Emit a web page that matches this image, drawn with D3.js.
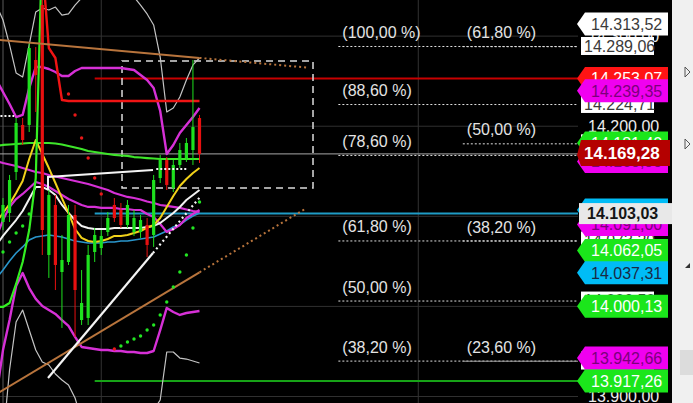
<!DOCTYPE html>
<html>
<head>
<meta charset="utf-8">
<script src="https://cdn.jsdelivr.net/npm/d3@7"></script>
<style>
  html, body { margin: 0; padding: 0; background: #000; overflow: hidden; }
  svg { display: block; }
  text { font-family: "Liberation Sans", Arial, sans-serif; }
</style>
</head>
<body>
<svg id="chart" width="693" height="403"></svg>
<script>
// ---- Candles (bar index 0..31, prices in index points) ----
const candleOpen  = [14070, 14093.7, 14103.7, 14149.2, 14201.4, 14201.4, 14273.5, 14334.5, 14057.1, 14112.6, 14038.2, 14049.3, 14101.5, 13984.9, 13987.2, 14060.4, 14064.8, 14082.6, 14112.6, 14107.0, 14090.4, 14082.6, 14082.6, 14090.4, 14079.3, 14142.5, 14162.5, 14131.4, 14157.0, 14164.7, 14173.6, 14209.1];
const candleHigh  = [14090, 14120.3, 14145.9, 14209.1, 14209.1, 14293.5, 14287.9, 14351.2, 14129.2, 14123.7, 14079.3, 14112.6, 14112.6, 14040.4, 14068.2, 14087.1, 14084.8, 14104.8, 14120.3, 14114.8, 14118.1, 14107.0, 14101.5, 14098.1, 14145.9, 14168.1, 14165.8, 14162.5, 14181.4, 14186.9, 14273.5, 14212.5];
const candleLow   = [14060, 14084.8, 14093.7, 14140.3, 14179.2, 14193.6, 14215.8, 14057.1, 14031.6, 14018.2, 13976.1, 14046.0, 13966.1, 13979.4, 13979.4, 14049.3, 14057.1, 14078.2, 14093.7, 14087.1, 14087.1, 14078.2, 14076.0, 14054.8, 14066.0, 14137.0, 14129.2, 14127.0, 14153.6, 14160.3, 14157.0, 14159.2];
const candleClose = [14085, 14112.6, 14140.3, 14203.6, 14184.7, 14286.8, 14256.9, 14084.8, 14123.7, 14046.0, 14051.5, 14101.5, 14018.2, 14003.8, 14057.1, 14079.3, 14078.2, 14098.1, 14098.1, 14090.4, 14112.6, 14098.1, 14095.9, 14068.2, 14140.3, 14162.5, 14134.8, 14157.0, 14173.6, 14181.4, 14199.1, 14169.28];

// ---- Indicator series ----
const outerUpper = [14334.5, 14317.9, 14290.2, 14259.1, 14254.6, 14290.2, 14326.8, 14331.2, 14329.0, 14332.3, 14323.4, 14324.6, 14334.5, 14342.3, 14356.7, 14367.8, 14373.4, 14373.4, 14373.4, 14367.8, 14356.7, 14343.4, 14334.5, 14324.6, 14312.4, 14276.8, 14215.8, 14220.2, 14232.4, 14251.3, 14268.0, 14275.7];
const outerLower = [13807.3, 13851.7, 13929.4, 13982.7, 13996.0, 13973.8, 13951.6, 13938.3, 13935.0, 13925.0, 13918.3, 13912.8, 13898.4, 13874.0, 13851.7, 13840.7, 13835.1, 13835.1, 13835.1, 13835.1, 13840.7, 13846.2, 13857.3, 13868.4, 13885.0, 13896.1, 13949.4, 13949.4, 13942.7, 13941.6, 13939.4, 13937.2];
const bandUpper  = [14251.3, 14238.0, 14224.7, 14210.2, 14212.5, 14242.4, 14265.7, 14265.7, 14263.5, 14260.2, 14255.7, 14255.7, 14261.3, 14264.6, 14264.6, 14264.6, 14264.6, 14264.6, 14264.6, 14264.6, 14263.5, 14262.4, 14256.9, 14251.3, 14242.4, 14216.9, 14169.2, 14179.2, 14192.5, 14201.4, 14210.2, 14220.2];
const bandLower  = [13901.7, 13951.6, 13984.9, 14022.7, 14037.1, 14020.4, 14008.3, 14000.5, 13996.0, 13991.6, 13984.9, 13978.3, 13966.1, 13955.0, 13953.9, 13952.7, 13951.6, 13951.6, 13950.5, 13950.5, 13949.4, 13949.4, 13948.3, 13948.3, 13950.5, 13973.8, 13998.3, 13993.8, 13990.5, 13992.7, 13993.8, 13994.9];
const bandMiddle = [14077.1, 14095.9, 14110.4, 14119.2, 14124.8, 14131.4, 14138.1, 14135.9, 14132.5, 14128.1, 14123.7, 14119.2, 14115.9, 14112.6, 14110.4, 14110.4, 14109.3, 14109.3, 14109.3, 14108.1, 14108.1, 14107.0, 14107.0, 14102.6, 14099.3, 14091.5, 14082.6, 14085.9, 14090.4, 14098.1, 14102.6, 14107.0];
const slowAverage = [14161.4, 14159.2, 14157.5, 14155.8, 14153.6, 14151.4, 14149.2, 14148.1, 14145.9, 14144.2, 14142.5, 14140.9, 14139.2, 14137.5, 14135.9, 14133.7, 14131.4, 14129.2, 14125.9, 14123.7, 14121.5, 14120.3, 14118.7, 14116.4, 14114.8, 14112.6, 14111.5, 14110.4, 14109.3, 14107.6, 14105.9, 14104.8];
const whiteAverage = [14068.2, 14078.2, 14087.1, 14095.9, 14105.9, 14119.2, 14132.5, 14132.5, 14129.2, 14123.7, 14112.6, 14103.7, 14095.9, 14089.3, 14087.1, 14085.9, 14085.9, 14085.9, 14087.1, 14087.1, 14087.1, 14087.1, 14087.1, 14088.2, 14089.3, 14092.6, 14098.1, 14103.7, 14110.4, 14118.1, 14123.7, 14129.2];
const yellowAverage = [14093.7, 14103.7, 14113.7, 14125.9, 14139.2, 14163.6, 14184.7, 14169.2, 14153.6, 14137.0, 14120.3, 14103.7, 14085.9, 14076.0, 14072.6, 14071.5, 14072.6, 14074.8, 14078.2, 14078.2, 14079.3, 14081.5, 14083.7, 14087.1, 14090.4, 14098.1, 14110.4, 14122.6, 14133.7, 14141.4, 14148.1, 14153.6];
const greenAverage = [14178.1, 14179.2, 14179.7, 14180.3, 14180.8, 14181.4, 14181.4, 14181.4, 14181.4, 14180.8, 14179.7, 14178.1, 14176.4, 14174.7, 14172.5, 14171.4, 14170.3, 14169.2, 14168.1, 14167.5, 14167.0, 14165.8, 14165.3, 14164.7, 14164.2, 14163.6, 14163.6, 14163.6, 14163.6, 14163.6, 14163.6, 14163.6];
const blueAverage = [14031.6, 14040.4, 14050.4, 14059.3, 14066.0, 14073.7, 14077.1, 14078.2, 14079.3, 14078.2, 14077.1, 14074.8, 14072.6, 14071.5, 14070.4, 14070.4, 14070.4, 14071.5, 14071.5, 14072.6, 14072.6, 14073.7, 14074.8, 14075.9, 14077.1, 14080.4, 14083.7, 14088.2, 14090.4, 14095.9, 14100.4, 14103.7];
const trailLong  = [13999.4, 13999.4, 14003.8, 14024.9, 14049.3, 14084.8, 14142.5, 14406.7, null, null, null, null, null, null, null, null, null, null, null, null, null, null, null, null, null, null, null, null, null, null, null, null];
const trailShort = [null, null, null, null, null, null, null, 14380.0, 14286.8, 14275.7, 14229.1, 14228.0, 14228.0, 14228.0, 14228.0, 14228.0, 14228.0, 14228.0, 14228.0, 14228.0, 14228.0, 14228.0, 14228.0, 14228.0, 14228.0, 14228.0, 14228.0, 14228.0, 14228.0, 14228.0, 14228.0, 14228.0];
const sarValues = [null, 14060.4, 14071.5, 14081.5, 14089.3, 14102.6, null, null, null, null, null, 14235.8, 14212.5, 14186.9, 14164.7, 14142.5, 14124.8, null, 13952.7, 13956.1, 13960.5, 13963.8, 13967.2, 13973.8, 13979.4, 13990.5, 14004.9, 14021.6, 14038.2, 14057.1, 14087.1, 14115.9];
const sarSide = [null, 'up', 'up', 'up', 'up', 'up', null, null, null, null, null, 'down', 'down', 'down', 'down', 'down', 'down', null, 'down', 'up', 'up', 'up', 'up', 'up', 'up', 'up', 'up', 'up', 'up', 'up', 'up', 'up'];

// ---- Drawn objects, anchored as [bar index, price] ----
const fallingTrend = [[0, 14296.0], [31, 14275.8]];
const fallingTrendEnd = 47.4;
const risingTrend = [[0, 13902.7], [31, 14037.9]];
const risingTrendEnd = 47.1;
const whiteTrend = [[7.87, 13920.6], [23.9, 14059.3]];
const whiteTrendEnd = 31;
const whiteStep = [[7.87, 14129.2], [7.87, 14143.6], [23.9, 14151.4]];
const whiteStepDotted = [[24.4, 14152.5], [29.0, 14152.5]];
const whiteLeftDotted = [[0, 14211.4], [2.7, 14211.4]];
const zoneBox = [[19.17, 14272.4], [48.33, 14131.4]];
const levelLines = [14253.07, 14103.03, 13917.26];
const levelStart = 15;
const lastPrice = 14169.28;

// ---- Fibonacci retracements ----
const fibLow = 13724.0;
const fibHighA = 14289.06;
const fibHighB = 14638.0;
const fibLevelsA = [1, 0.886, 0.786, 0.618, 0.5, 0.382];
const fibLevelsB = [0.618, 0.5, 0.382, 0.236];
const fibStartA = 52.2;
const fibStartB = 71.2;

// ---- Price axis ----
const axisTicks = [13900, 14000, 14100, 14200, 14300];
const sessionBreaks = [1, 16, 64.4];
const tagValues = [14289.06, 14224.71, 14181.0, 14073.2, 14006.5, 13939.9, 14313.52, 14253.07, 14239.35, 14181.4, 14160.9, 14169.28, 14107.0, 14091.00, 14103.03, 14062.05, 14037.31, 14000.13, 13942.66, 13917.26];
const tagKinds  = ['level', 'level', 'level', 'level', 'level', 'level', 'mark', 'red', 'magenta', 'green', 'magenta', 'last', 'cyan', 'magenta', 'cursor', 'green', 'cyan', 'green', 'magenta', 'green'];

// ================= drawing =================
const W = 693, H = 403, PLOT_W = 578;
const loc = d3.formatLocale({ decimal: ",", thousands: ".", grouping: [3], currency: ["", ""] });
const fmtPrice = loc.format(",.2f");
const fmtPct = loc.format(".2f");

const x = d3.scaleLinear().domain([0, 31]).range([-3.55, 199.5]);
const y = d3.scaleLinear().domain([13892.8, 14340.1]).range([H, 0]);

const svg = d3.select("#chart");
svg.append("rect").attr("width", W).attr("height", H).attr("fill", "#000");
svg.append("defs").append("clipPath").attr("id", "plotClip")
  .append("rect").attr("width", PLOT_W).attr("height", H);
const plot = svg.append("g").attr("clip-path", "url(#plotClip)");

// grid
plot.selectAll("line.hgrid").data(axisTicks).join("line").attr("class", "hgrid")
  .attr("x1", 0).attr("x2", PLOT_W).attr("y1", d => y(d)).attr("y2", d => y(d))
  .attr("stroke", "#303030").attr("stroke-width", 1);
plot.selectAll("line.vgrid").data(sessionBreaks).join("line").attr("class", "vgrid")
  .attr("x1", d => x(d)).attr("x2", d => x(d)).attr("y1", 0).attr("y2", H)
  .attr("stroke", (d, i) => i === 0 ? "#5a5a5a" : "#333").attr("stroke-width", 1);

// horizontal levels
const levelColors = ["#c80000", "#1f9cc6", "#17a317"];
plot.selectAll("line.level").data(levelLines).join("line").attr("class", "level")
  .attr("x1", x(levelStart)).attr("x2", PLOT_W)
  .attr("y1", d => y(d)).attr("y2", d => y(d))
  .attr("stroke", (d, i) => levelColors[i]).attr("stroke-width", 2);
plot.append("line").attr("x1", 0).attr("x2", PLOT_W)
  .attr("y1", y(lastPrice)).attr("y2", y(lastPrice))
  .attr("stroke", "#a8a8a8").attr("stroke-width", 1);

// fibonacci
function drawFib(high, levels, start, solidLast) {
  const g = plot.append("g");
  levels.forEach((lv, i) => {
    const p = fibLow + (high - fibLow) * lv;
    const solid = solidLast && i === levels.length - 1;
    g.append("line").attr("x1", x(start)).attr("x2", PLOT_W)
      .attr("y1", y(p) + 0.5).attr("y2", y(p) + 0.5)
      .attr("stroke", solid ? "#9a9a9a" : "#e0e0e0").attr("stroke-width", 1)
      .attr("stroke-dasharray", solid ? null : "2,2");
    g.append("text").attr("x", x(start) + 4).attr("y", y(p) - 8)
      .attr("fill", "#e4e4e4").attr("font-size", 16)
      .text(`(${fmtPct(lv * 100)} %)`);
  });
}
drawFib(fibHighA, fibLevelsA, fibStartA, false);
drawFib(fibHighB, fibLevelsB, fibStartB, true);

// zone box
plot.append("rect")
  .attr("x", x(zoneBox[0][0])).attr("y", y(zoneBox[0][1]))
  .attr("width", x(zoneBox[1][0]) - x(zoneBox[0][0]))
  .attr("height", y(zoneBox[1][1]) - y(zoneBox[0][1]))
  .attr("fill", "none").attr("stroke", "#dcdcdc").attr("stroke-width", 1.5)
  .attr("stroke-dasharray", "7,5");

// indicators
const line = d3.line().defined(d => d != null).x((d, i) => x(i)).y(d => y(d));
function series(data, color, width) {
  plot.append("path").datum(data).attr("d", line)
    .attr("fill", "none").attr("stroke", color).attr("stroke-width", width)
    .attr("stroke-linejoin", "round");
}
series(outerUpper, "#c4c4c4", 1.2);
series(outerLower, "#c4c4c4", 1.2);
series(blueAverage, "#2a96cc", 1.6);
series(slowAverage, "#d630d6", 2.2);
series(bandMiddle, "#d630d6", 2.2);
series(bandUpper, "#d630d6", 2.4);
series(bandLower, "#d630d6", 2.4);
series(greenAverage, "#3ee62a", 2.2);
series(whiteAverage, "#f2f2f2", 2);
series(yellowAverage, "#f2d21a", 2);
series(trailLong, "#33ee22", 2.2);
series(trailShort, "#f01414", 2.4);

// candles
const bars = d3.range(candleOpen.length);
const up = i => candleClose[i] >= candleOpen[i];
const cg = plot.append("g");
cg.selectAll("line").data(bars).join("line")
  .attr("x1", i => x(i)).attr("x2", i => x(i))
  .attr("y1", i => y(candleHigh[i])).attr("y2", i => y(candleLow[i]))
  .attr("stroke", i => up(i) ? "#1ee01e" : "#e81010").attr("stroke-width", 1);
cg.selectAll("rect").data(bars).join("rect")
  .attr("x", i => x(i) - 1.6).attr("width", 3.2)
  .attr("y", i => y(Math.max(candleOpen[i], candleClose[i])))
  .attr("height", i => Math.max(1, Math.abs(y(candleOpen[i]) - y(candleClose[i]))))
  .attr("fill", i => up(i) ? "#1ee01e" : "#e81010");

// trend lines
function trend(anchors, endIndex, color, width) {
  const [a, b] = anchors;
  const slope = (b[1] - a[1]) / (b[0] - a[0]);
  plot.append("line").attr("x1", x(a[0])).attr("y1", y(a[1])).attr("x2", x(b[0])).attr("y2", y(b[1]))
    .attr("stroke", color).attr("stroke-width", width);
  plot.append("line").attr("x1", x(b[0])).attr("y1", y(b[1]))
    .attr("x2", x(endIndex)).attr("y2", y(b[1] + slope * (endIndex - b[0])))
    .attr("stroke", color).attr("stroke-width", width).attr("stroke-dasharray", "2,3");
}
trend(fallingTrend, fallingTrendEnd, "#b8743c", 2);
trend(risingTrend, risingTrendEnd, "#b8743c", 2);
trend(whiteTrend, whiteTrendEnd, "#f4f4f4", 2.2);

const pl = d3.line().x(d => x(d[0])).y(d => y(d[1]));
plot.append("path").datum(whiteStep).attr("d", pl).attr("fill", "none")
  .attr("stroke", "#f4f4f4").attr("stroke-width", 2);
plot.append("path").datum(whiteStepDotted).attr("d", pl).attr("fill", "none")
  .attr("stroke", "#f4f4f4").attr("stroke-width", 2).attr("stroke-dasharray", "2,2");
plot.append("path").datum(whiteLeftDotted).attr("d", pl).attr("fill", "none")
  .attr("stroke", "#f4f4f4").attr("stroke-width", 2).attr("stroke-dasharray", "2,2");

// parabolic stop dots
plot.selectAll("circle.sar").data(bars.filter(i => sarValues[i] != null)).join("circle")
  .attr("class", "sar").attr("cx", i => x(i)).attr("cy", i => y(sarValues[i])).attr("r", 1.7)
  .attr("fill", i => sarSide[i] === "up" ? "#22e622" : "#e81818");

// ---- price axis ----
const axisG = svg.append("g").attr("transform", `translate(${PLOT_W},0)`);
axisG.call(d3.axisRight(y).tickValues(axisTicks).tickFormat(fmtPrice).tickSize(0).tickPadding(10));
axisG.select(".domain").remove();
axisG.selectAll("text").attr("fill", "#ececec").attr("font-size", 16)
  .attr("font-family", "Liberation Sans, Arial, sans-serif");

const tagStyle = {
  level:   { fill: "#ffffff", text: "#3a3a3a", shape: "box" },
  mark:    { fill: "#ffffff", text: "#3a3a3a", shape: "arrow" },
  red:     { fill: "#ff1414", text: "#ffffff", shape: "arrow" },
  magenta: { fill: "#f000f0", text: "#7c007c", shape: "arrow" },
  green:   { fill: "#1be61b", text: "#ffffff", shape: "arrow" },
  cyan:    { fill: "#00bcf6", text: "#1a2a44", shape: "arrow" },
  last:    { fill: "#b40000", text: "#ffffff", shape: "last" },
  cursor:  { fill: "#e8e8e8", text: "#151515", shape: "cursor" }
};
const tagsG = svg.append("g");
tagValues.forEach((v, i) => {
  const st = tagStyle[tagKinds[i]];
  const cy = y(v);
  const g = tagsG.append("g");
  let tx = 591, fs = 16, fw = "normal";
  if (st.shape === "arrow") {
    const h = 23;
    g.append("path").attr("d", `M577,${cy}L585,${cy - h / 2}L668,${cy - h / 2}L668,${cy + h / 2}L585,${cy + h / 2}Z`)
      .attr("fill", st.fill);
  } else if (st.shape === "box") {
    g.append("rect").attr("x", 581).attr("y", cy - 9).attr("width", 73).attr("height", 18).attr("fill", st.fill);
    tx = 584;
  } else if (st.shape === "last") {
    const c = cy - 1, h = 26;
    g.append("path").attr("d", `M577,${c + 2}L581,${c - h / 2}L670,${c - h / 2}L670,${c + h / 2}L581,${c + h / 2}Z`)
      .attr("fill", st.fill);
    tx = 584; fs = 17; fw = "bold";
  } else {
    g.append("rect").attr("x", 579).attr("y", cy - 10.5).attr("width", 93).attr("height", 21).attr("fill", st.fill);
    tx = 587; fs = 16; fw = "bold";
  }
  g.append("text").attr("x", tx).attr("y", (st.shape === "last" ? cy - 1 : cy)).attr("dy", "0.36em")
    .attr("fill", st.text).attr("font-size", fs).attr("font-weight", fw)
    .text(fmtPrice(v));
});

// side panel
const side = svg.append("g");
side.append("rect").attr("x", 672).attr("y", 0).attr("width", 21).attr("height", H).attr("fill", "#f0f0f0");
side.append("path").attr("d", "M685,67L690,72L685,77Z").attr("fill", "none").attr("stroke", "#555").attr("stroke-width", 1);
side.append("path").attr("d", "M685,139L690,144L685,149Z").attr("fill", "none").attr("stroke", "#555").attr("stroke-width", 1);
side.append("path").attr("d", "M690,263L690,268L685,268Z").attr("fill", "#333");
side.append("rect").attr("x", 680).attr("y", 350).attr("width", 13).attr("height", 25).attr("fill", "#dcdcdc");
</script>
</body>
</html>
